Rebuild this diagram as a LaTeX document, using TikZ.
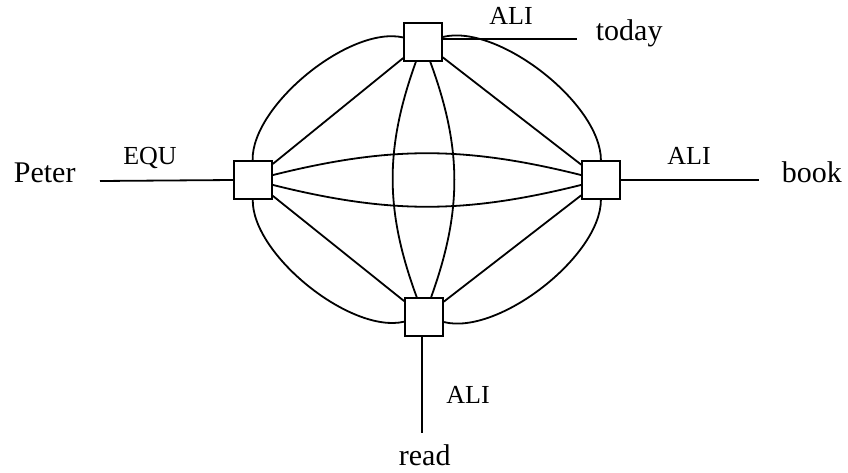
\documentclass[tikz,border=0pt]{standalone}
\usepackage{fontspec}
\setmainfont{Liberation Serif}
\usetikzlibrary{positioning}

\begin{document}
\begin{tikzpicture}[
  x=1pt, y=1pt,
  line width=1.8pt,
  sq/.style={draw, rectangle, minimum size=38pt, inner sep=0pt},
  word/.style={anchor=base west, inner sep=0pt, font=\fontsize{30}{36}\selectfont},
  rel/.style={anchor=base, inner sep=0pt, font=\fontsize{26}{30}\selectfont},
  outer/.style={bend right=52, looseness=0.72}
]
\useasboundingbox (0,0) rectangle (848,472);
\node[sq] (t) at (423,430) {};
\node[sq] (l) at (253,292) {};
\node[sq] (r) at (601,292) {};
\node[sq] (b) at (424,155) {};
% free ends of the outer links
\coordinate (tEnd) at (577,433);
\coordinate (lEnd) at (100,291);
\coordinate (rEnd) at (759,292);
\coordinate (bEnd) at (422,39);
\node[word] (today) at (595,431) {today};
\node[word] (peter) at (13,290) {Peter};
\node[word] (book) at (781,290) {book};
\node[word] (read) at (398,7) {read};
\node[rel] (aliT) at (511,447) {ALI};
\node[rel] (equ) at (150,308) {EQU};
\node[rel] (aliR) at (689,307) {ALI};
\node[rel] (aliB) at (468,69) {ALI};
\draw (t.east |- tEnd) -- (tEnd);
\draw (lEnd) -- (l.west);
\draw (r.east) -- (rEnd);
\draw (b.south -| bEnd) -- (bEnd);
% straight links
\draw (t) -- (l);
\draw (l) -- (b);
\draw (b) -- (r);
\draw (r) -- (t);
% outer arcs
\draw (t) to[outer] (l);
\draw (l) to[outer] (b);
\draw (b) to[outer] (r);
\draw (r) to[outer] (t);
% lenses
\draw (l) to[bend left=14] (r);
\draw (l) to[bend right=14] (r);
\draw (t) to[bend left=20] (b);
\draw (t) to[bend right=20] (b);
\end{tikzpicture}
\end{document}
